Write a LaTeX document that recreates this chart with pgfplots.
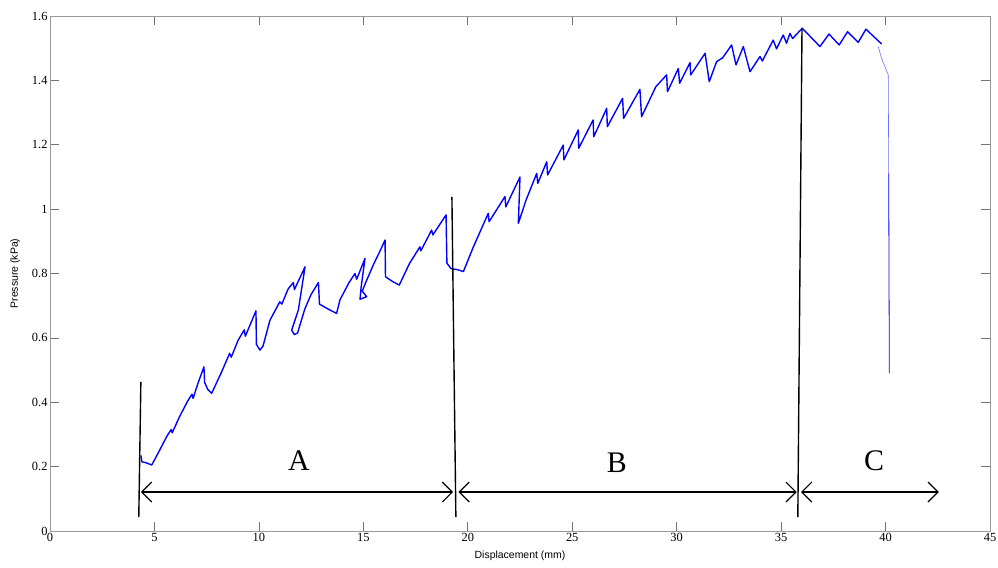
\documentclass[border=0pt]{standalone}
\usepackage{pgfplots}
\pgfplotsset{compat=1.18}
\usetikzlibrary{arrows.meta}
\usepackage{fontspec}
\setmainfont{Liberation Serif}
\newfontfamily\arial{Liberation Sans}
\definecolor{mblue}{RGB}{0,0,255}
\definecolor{lblue}{RGB}{110,110,255}
\begin{document}
\begin{tikzpicture}
\begin{axis}[
  width=940bp, height=515bp, scale only axis,
  xmin=0, xmax=45, ymin=0, ymax=1.6,
  xtick={0,5,...,45}, ytick={0,0.2,...,1.6},
  /pgf/number format/assume math mode=true,
  /pgf/number format/fixed,
  tick label style={font=\fontsize{12.5}{13}\selectfont, text=black},
  yticklabel style={xshift=1bp},
  xticklabel style={yshift=1bp},
  axis line style={draw=gray!80, line width=0.6pt},
  tick style={draw=gray!90!black, line width=0.6pt},
  major tick length=9bp,
  tick align=inside,
  xlabel={\arial Displacement (mm)},
  ylabel={\arial Pressure (kPa)},
  label style={font=\fontsize{10.5}{12}\selectfont},
  xlabel style={at={(axis description cs:0.5,-0.0485)}, anchor=center},
  ylabel style={at={(axis description cs:-0.037,0.5)}, anchor=center},
  clip=false,
]
% main pressure trace
\addplot[mblue, line width=1.4pt, line join=round] coordinates {
(4.35,0.235)(4.40,0.215)(4.60,0.212)(4.87,0.205)(5.20,0.245)(5.60,0.295)(5.80,0.315)(5.85,0.305)
(6.20,0.355)(6.60,0.405)(6.80,0.425)(6.85,0.412)(7.10,0.462)(7.37,0.510)(7.40,0.462)(7.55,0.440)
(7.74,0.428)(8.20,0.492)(8.60,0.552)(8.68,0.540)(9.00,0.592)(9.30,0.625)(9.35,0.605)(9.86,0.684)
(9.88,0.580)(10.05,0.562)(10.20,0.575)(10.53,0.655)(11.00,0.712)(11.10,0.705)(11.40,0.752)(11.65,0.772)
(11.70,0.750)(12.21,0.821)(11.89,0.687)(11.57,0.624)(11.70,0.610)(11.85,0.615)(12.20,0.690)(12.50,0.735)
(12.85,0.772)(12.90,0.705)(13.30,0.690)(13.72,0.676)(13.88,0.718)(14.30,0.770)(14.60,0.800)(14.68,0.782)
(15.08,0.847)(14.90,0.760)(14.84,0.720)(15.16,0.728)(14.95,0.745)(15.10,0.770)(15.50,0.830)(15.80,0.870)
(16.04,0.904)(16.06,0.790)(16.40,0.775)(16.72,0.764)(17.20,0.830)(17.71,0.883)(17.75,0.870)(18.27,0.935)
(18.33,0.920)(18.96,0.982)(19.00,0.832)(19.20,0.815)(19.50,0.812)(19.79,0.806)(20.27,0.883)(20.98,0.987)
(21.02,0.961)(21.78,1.039)(21.82,1.007)(22.50,1.100)(22.42,0.956)(22.80,1.030)(23.30,1.111)(23.35,1.080)
(23.78,1.147)(23.82,1.106)(24.57,1.199)(24.60,1.153)(25.29,1.246)(25.31,1.189)(26.00,1.277)(26.03,1.225)
(26.65,1.313)(26.68,1.256)(27.41,1.344)(27.46,1.282)(28.24,1.372)(28.32,1.287)(29.00,1.380)(29.52,1.417)
(29.56,1.365)(30.08,1.437)(30.14,1.391)(30.64,1.455)(30.67,1.417)(31.36,1.484)(31.56,1.396)(31.91,1.458)
(32.20,1.470)(32.63,1.510)(32.84,1.448)(33.19,1.505)(33.51,1.427)(33.99,1.474)(34.10,1.460)(34.62,1.525)
(34.78,1.498)(35.10,1.541)(35.26,1.515)(35.42,1.546)(35.55,1.530)(36.01,1.562)(36.86,1.505)(37.29,1.544)
(37.78,1.510)(38.18,1.551)(38.69,1.518)(39.06,1.559)(39.81,1.513)
};
% final collapse
\addplot[lblue, line width=0.6pt] coordinates {
(39.65,1.505)(39.80,1.470)(40.13,1.417)(40.15,1.111)
};
\addplot[mblue, line width=0.8pt] coordinates {
(40.15,1.111)(40.18,0.490)
};
% region boundaries
\addplot[black, line width=1.4pt] coordinates {(4.35,0.463)(4.25,0.043)};
\addplot[black, line width=1.4pt] coordinates {(19.24,1.038)(19.43,0.043)};
\addplot[black, line width=1.4pt] coordinates {(36.0,1.563)(35.8,0.043)};
% arrows
\addplot[black, line width=1.2pt, {Straight Barb[length=10bp,width=20bp]}-{Straight Barb[length=10bp,width=20bp]}] coordinates {(4.35,0.121)(19.30,0.121)};
\addplot[black, line width=1.2pt, {Straight Barb[length=10bp,width=20bp]}-{Straight Barb[length=10bp,width=20bp]}] coordinates {(19.55,0.121)(35.75,0.121)};
\addplot[black, line width=1.2pt, {Straight Barb[length=10bp,width=20bp]}-{Straight Barb[length=10bp,width=20bp]}] coordinates {(35.95,0.121)(42.55,0.121)};
\node[font=\fontsize{30}{30}\selectfont] at (axis cs:11.92,0.218) {A};
\node[font=\fontsize{30}{30}\selectfont] at (axis cs:27.14,0.213) {B};
\node[font=\fontsize{30}{30}\selectfont] at (axis cs:39.45,0.218) {C};
\end{axis}
\pgfresetboundingbox
\path ([shift={(-50bp,-36bp)}]current axis.south west) rectangle ([shift={(8bp,16bp)}]current axis.north east);
\end{tikzpicture}
\end{document}
